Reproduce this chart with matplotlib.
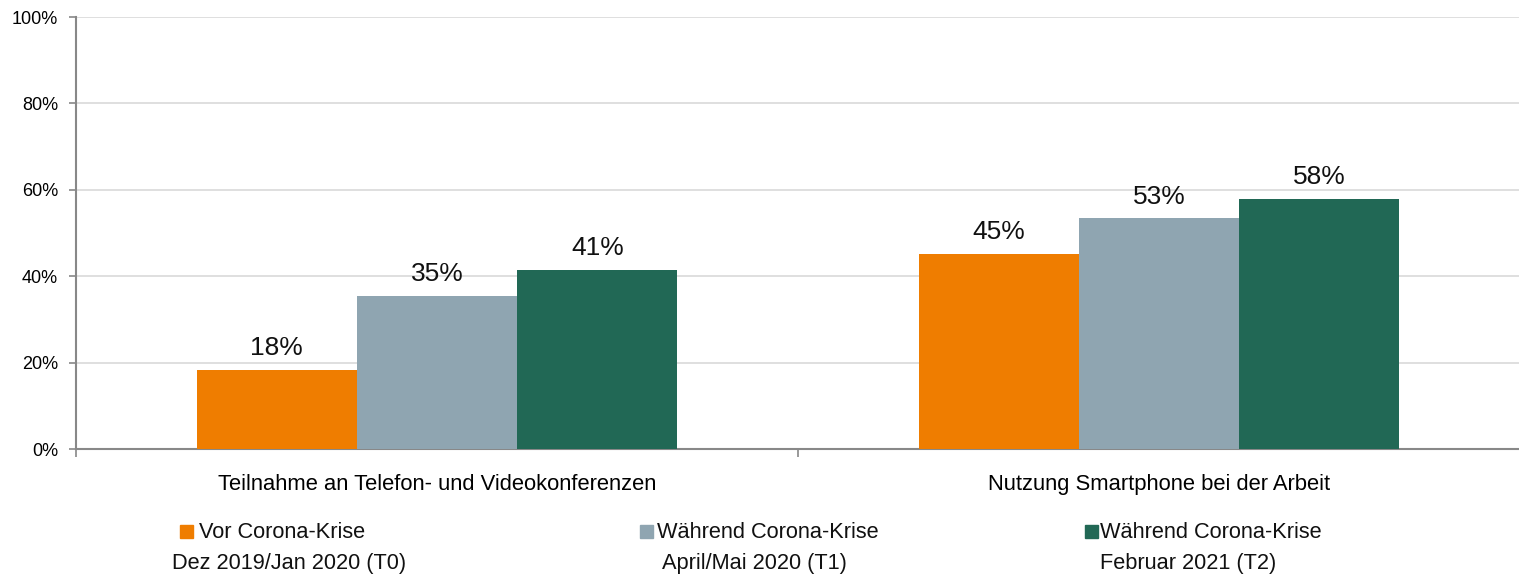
import numpy as np
import matplotlib.pyplot as plt
from matplotlib.patches import Rectangle

# data
categories = ['Teilnahme an Telefon- und Videokonferenzen', 'Nutzung Smartphone bei der Arbeit']
series_names = ['Vor Corona-Krise', 'Während Corona-Krise', 'Während Corona-Krise']
series_sub = ['Dez 2019/Jan 2020 (T0)', 'April/Mai 2020 (T1)', 'Februar 2021 (T2)']
t0 = [18.4, 45.1]
t1 = [35.4, 53.4]
t2 = [41.4, 57.9]
shown0 = ['18%', '45%']
shown1 = ['35%', '53%']
shown2 = ['41%', '58%']
yticks = [0, 20, 40, 60, 80, 100]

colors = ['#EF7D00', '#8FA5B1', '#216855']

plt.rcParams['font.family'] = ['Liberation Sans', 'DejaVu Sans']

W, H = 1519, 577
fig = plt.figure(figsize=(W / 100, H / 100), dpi=100)
ax = fig.add_axes([76 / W, 1 - 449 / H, (1520 - 76) / W, (449 - 17) / H])

x = np.arange(len(categories))
bw = 0.222
vals = [t0, t1, t2]
shown = [shown0, shown1, shown2]
for i in range(3):
    bars = ax.bar(x + (i - 1) * bw, vals[i], bw, color=colors[i], zorder=3)
    for b, s in zip(bars, shown[i]):
        ax.annotate(s, (b.get_x() + b.get_width() / 2, b.get_height()),
                    xytext=(0, 7), textcoords='offset points',
                    ha='center', va='bottom', fontsize=19, color='#111111')

ax.set_xlim(-0.5, 1.5)
ax.set_ylim(0, 100)
ax.set_yticks(yticks)
ax.set_yticklabels([f'{v}%' for v in yticks], fontsize=13)
ax.yaxis.grid(True, color='#D9D9D9', lw=1.2, zorder=0)
ax.set_axisbelow(True)

# category labels between boundary ticks
ax.set_xticks([-0.5, 0.5, 1.5])
ax.set_xticklabels([])
ax.set_xticks(x, minor=True)
ax.set_xticklabels(categories, minor=True, fontsize=15.8)
ax.tick_params(axis='x', which='minor', length=0, pad=18)
ax.tick_params(axis='x', which='major', length=6, color='#888888', width=1.2)
ax.tick_params(axis='y', length=5, color='#888888', width=1.2, pad=8)

for s in ['top', 'right']:
    ax.spines[s].set_visible(False)
for s in ['left', 'bottom']:
    ax.spines[s].set_color('#888888')
    ax.spines[s].set_linewidth(1.5)

# legend, laid out by hand like the original
mark_x = [180, 640, 1085]
text_x = [199, 657, 1100]
sub_x = [172, 662, 1100]
for i in range(3):
    fig.patches.append(Rectangle((mark_x[i] / W, 1 - 538 / H), 13 / W, 13 / H,
                                 transform=fig.transFigure, color=colors[i]))
    fig.text(text_x[i] / W, 1 - 533 / H, series_names[i], fontsize=15.7,
             va='center', ha='left', color='#111111')
    fig.text(sub_x[i] / W, 1 - 563 / H, series_sub[i], fontsize=15.7,
             va='center', ha='left', color='#111111')

fig.savefig('out.png', dpi=100)
